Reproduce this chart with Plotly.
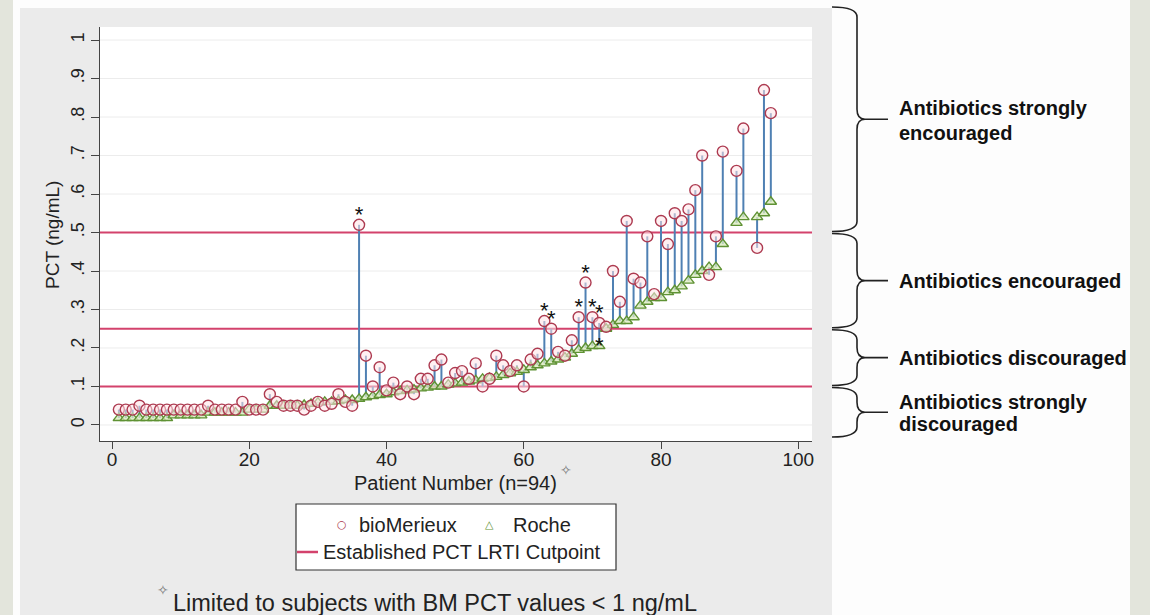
import plotly.graph_objects as go

# ---------------- data ----------------
patients = list(range(1, 90)) + [91, 92, 94, 95, 96]

biomerieux = [
    .04, .04, .04, .05, .04, .04, .04, .04, .04, .04, .04, .04, .04, .05, .04, .04, .04, .04, .06, .04,
    .04, .04, .08, .06, .05, .05, .05, .04, .05, .06, .05, .055, .08, .06, .05,
    .52, .18, .10, .15, .09, .11, .08, .10, .08, .12, .12, .155, .17, .11, .135, .14, .12, .16, .10, .12,
    .18, .155, .14, .155, .10,
    .17, .185, .27, .25, .19, .18, .22, .28, .37, .28, .265, .255,
    .40, .32, .53, .38, .37, .49, .34, .53, .47, .55, .53, .56, .61, .70, .39, .49, .71,
    .66, .77, .46, .87, .81,
]

roche = [
    .018, .018, .018, .018, .018, .018, .018, .018,
    .025, .025, .025, .025, .025,
    .032, .032, .032, .032, .032, .032,
    .04, .04, .04,
    .05, .05, .05, .05, .05,
    .052, .055, .058,
    .06, .06, .062, .065, .065,
    .068, .072, .075, .078, .08,
    .085, .088, .09, .092, .095,
    .097, .10, .10, .105, .108,
    .11, .113, .116, .12, .122,
    .125, .13, .134, .138, .143,
    .15, .155, .16, .165, .17, .175, .185,
    .195, .20, .205, .205, .25,
    .26, .27, .27, .28, .31, .32, .33, .33, .345, .35, .36, .375, .39, .40, .41, .41, .47,
    .525, .54, .54, .55, .58,
]

starred_bm = [36, 63, 64, 68, 69, 70, 71]
starred_roche = [71]

cutpoints = [0.1, 0.25, 0.5]

y_tickvals = [0, .1, .2, .3, .4, .5, .6, .7, .8, .9, 1]
y_ticktext = ["0", ".1", ".2", ".3", ".4", ".5", ".6", ".7", ".8", ".9", "1"]
x_tickvals = [0, 20, 40, 60, 80, 100]

zones = [
    ("Antibiotics strongly", "encouraged", 0.5, None),
    ("Antibiotics encouraged", None, 0.25, 0.5),
    ("Antibiotics discouraged", None, 0.1, 0.25),
    ("Antibiotics strongly", "discouraged", None, 0.1),
]

# ---------------- layout geometry ----------------
W, H = 1150, 615
L, R, T, B = 100, 812, 27, 441
PW, PH = R - L, B - T
XR = [-1.75, 102.0]
YR = [-0.0416, 1.0338]


def px(x):
    return (x - L) / PW


def py(y):
    return (B - y) / PH


def ypx(v):
    return B - (v - YR[0]) / (YR[1] - YR[0]) * PH


FONT = "Liberation Sans, Arial, sans-serif"
BM_COL = "#ad3a50"
RO_COL = "#5f9234"
SPIKE_COL = "#4f80b3"
CUT_COL = "#d3426c"

fig = go.Figure()

# spikes
sx, sy = [], []
for p, b, r in zip(patients, biomerieux, roche):
    sx += [p, p, None]
    sy += [b, r, None]
fig.add_trace(go.Scatter(x=sx, y=sy, mode="lines", line=dict(color=SPIKE_COL, width=2),
                         hoverinfo="skip", showlegend=False))

fig.add_trace(go.Scatter(x=patients, y=roche, mode="markers", name="Roche",
                         marker=dict(symbol="triangle-up", size=10, color="rgba(218,234,188,0.75)",
                                     line=dict(color=RO_COL, width=1.4)), showlegend=False))
fig.add_trace(go.Scatter(x=patients, y=biomerieux, mode="markers", name="bioMerieux",
                         marker=dict(symbol="circle", size=11, color="rgba(255,228,232,0.55)",
                                     line=dict(color=BM_COL, width=1.4)), showlegend=False))

# stars
st_x, st_y = [], []
for p in starred_bm:
    i = patients.index(p)
    st_x.append(p)
    st_y.append(biomerieux[i] + 0.022)
for p in starred_roche:
    i = patients.index(p)
    st_x.append(p)
    st_y.append(roche[i] - 0.004)
fig.add_trace(go.Scatter(x=st_x, y=st_y, mode="text", text=["*"] * len(st_x),
                         textfont=dict(family=FONT, size=22, color="#111"),
                         textposition="middle center", hoverinfo="skip", showlegend=False))

shapes = []
# page background pieces (outside plot area)
for x0, x1, y0, y1, col in [
    (832, 1130, 0, 615, "#fdfdfd"),
    (13, 832, 0, 8, "#fdfdfd"),
    (13, 20, 0, 615, "#fdfdfd"),
    (0, 13, 0, 615, "#e3e5dc"),
    (1130, 1150, 0, 615, "#e3e5dc"),
]:
    shapes.append(dict(type="rect", xref="paper", yref="paper", x0=px(x0), x1=px(x1), y0=py(y1), y1=py(y0),
                       fillcolor=col, line=dict(width=0), layer="below"))

# faint gridlines at y ticks, then cutpoint lines on top of them (all below data)
for v in y_tickvals:
    shapes.append(dict(type="line", xref="paper", yref="y", x0=0, x1=1, y0=v, y1=v,
                       line=dict(color="#ececec", width=1), layer="below"))
for c in cutpoints:
    shapes.append(dict(type="line", xref="paper", yref="y", x0=0, x1=1, y0=c, y1=c,
                       line=dict(color=CUT_COL, width=2), layer="below"))


# braces
def brace(yt, yb):
    xl, xs, xt, xd = 832, 857, 865, 888
    ym = (yt + yb) / 2
    r = min(10, (yb - yt) / 4)

    def P(x, y):
        return f"{px(x):.5f},{py(y):.5f}"
    path = (f"M {P(xl, yt)} Q {P(xs, yt)} {P(xs, yt + r)} L {P(xs, ym - r)} "
            f"Q {P(xs, ym)} {P(xt, ym)} Q {P(xs, ym)} {P(xs, ym + r)} "
            f"L {P(xs, yb - r)} Q {P(xs, yb)} {P(xl, yb)} M {P(xt, ym)} L {P(xd, ym)}")
    return dict(type="path", xref="paper", yref="paper", path=path,
                line=dict(color="#222", width=1.6))


annotations = []


def ann(x, y, text, size, family=FONT, color="#222", xanchor="center", **kw):
    annotations.append(dict(x=px(x), y=py(y), xref="paper", yref="paper", text=text, showarrow=False,
                            xanchor=xanchor, yanchor="middle",
                            font=dict(family=family, size=size, color=color), **kw))


for l1, l2, lo, hi in zones:
    yt = 7 if hi is None else ypx(hi) + 1
    yb = 437 if lo is None else ypx(lo) - 1
    shapes.append(brace(yt, yb))
    ym = (yt + yb) / 2
    if l2 is None:
        ann(897, ym, f"<b>{l1}</b>", 20, color="#111", xanchor="left")
    else:
        gap = 12.5 if hi is None else 11
        ann(897, ym - gap + 1, f"<b>{l1}</b>", 20, color="#111", xanchor="left")
        ann(897, ym + gap + 1, f"<b>{l2}</b>", 20, color="#111", xanchor="left")

# axis titles
ann(52, 235, "PCT (ng/mL)", 19, textangle=-90)
ann(455, 483, "Patient Number (n=94)", 20)
ann(566, 470, "✧", 14, family="DejaVu Sans", color="#777")

# legend (manual)
shapes.append(dict(type="rect", xref="paper", yref="paper", x0=px(296), x1=px(616), y0=py(570), y1=py(504),
                   fillcolor="white", line=dict(color="#333", width=1.2)))
shapes.append(dict(type="line", xref="paper", yref="paper", x0=px(297), x1=px(318), y0=py(552), y1=py(552),
                   line=dict(color=CUT_COL, width=2.5)))
ann(342, 524, "○", 11, family="DejaVu Sans", color=BM_COL)
ann(357, 525, "bioMerieux", 20, xanchor="left")
ann(489, 524, "△", 11, family="DejaVu Sans", color=RO_COL)
ann(511, 525, "Roche", 20, xanchor="left")
ann(321, 552, "Established PCT LRTI Cutpoint", 20, xanchor="left")

# footnote
ann(163, 590, "✧", 14, family="DejaVu Sans", color="#777")
ann(171, 603, "Limited to subjects with BM PCT values < 1 ng/mL", 23.5, xanchor="left")

fig.update_layout(
    width=W, height=H,
    margin=dict(l=L, r=W - R, t=T, b=H - B, pad=0, autoexpand=False),
    paper_bgcolor="#ebebeb", plot_bgcolor="white",
    shapes=shapes, annotations=annotations, showlegend=False,
    font=dict(family=FONT, color="#222"),
)
fig.update_xaxes(range=XR, tickvals=x_tickvals, ticks="outside", ticklen=7, tickcolor="#444",
                 ticklabelstandoff=-6,
                 showline=True, linecolor="#444", linewidth=1, showgrid=False, zeroline=False,
                 tickfont=dict(family=FONT, size=19, color="#222"))
fig.update_yaxes(range=YR, tickvals=y_tickvals, ticktext=y_ticktext, ticks="outside", ticklen=8,
                 tickcolor="#444", tickangle=-90, showline=True, linecolor="#444", linewidth=1,
                 showgrid=False, zeroline=False,
                 tickfont=dict(family=FONT, size=18, color="#222"))

fig.write_html("out.html")
